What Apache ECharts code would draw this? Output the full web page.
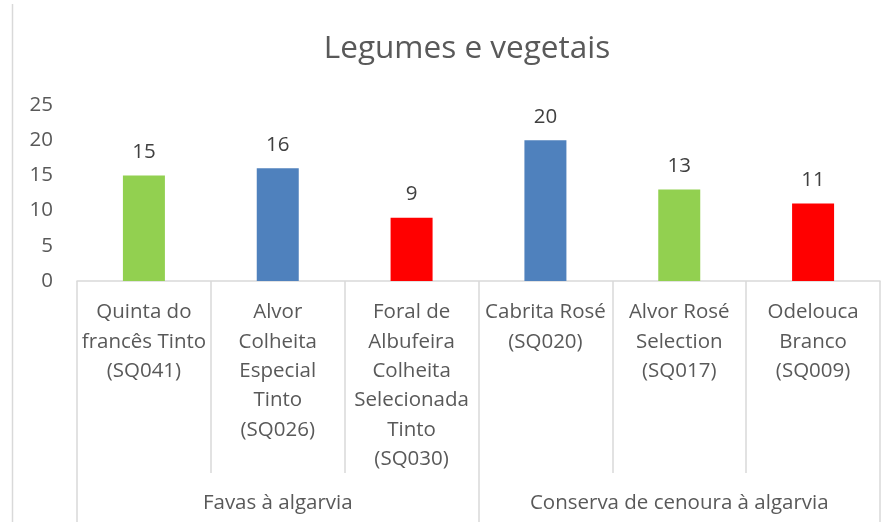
<!DOCTYPE html>
<html>
<head>
<meta charset="utf-8">
<script src="https://cdn.jsdelivr.net/npm/echarts@6/dist/echarts.min.js"></script>
<style>
  html, body { margin: 0; padding: 0; background: #fff; }
  #chart { width: 892px; height: 522px; }
</style>
</head>
<body>
<div id="chart"></div>
<script>
// dados do gráfico
const titleText = 'Legumes e vegetais';
const products = [
  'Quinta do\nfrancês Tinto\n(SQ041)',
  'Alvor\nColheita\nEspecial\nTinto\n(SQ026)',
  'Foral de\nAlbufeira\nColheita\nSelecionada\nTinto\n(SQ030)',
  'Cabrita Rosé\n(SQ020)',
  'Alvor Rosé\nSelection\n(SQ017)',
  'Odelouca\nBranco\n(SQ009)',
];
const groups = ['Favas à algarvia', 'Conserva de cenoura à algarvia'];
const values = [15, 16, 9, 20, 13, 11];
const barColors = ['#92d050', '#4f81bd', '#ff0000', '#4f81bd', '#92d050', '#ff0000'];
const yTicks = [0, 5, 10, 15, 20, 25];

const FONT = '"Open Sans", sans-serif';
const chart = echarts.init(document.getElementById('chart'));

chart.setOption({
  backgroundColor: '#fff',
  animation: false,
  textStyle: { fontFamily: FONT },
  title: {
    text: titleText,
    left: 462, top: 28, textAlign: 'center',
    textStyle: { fontFamily: FONT, fontSize: 31.5, fontWeight: 'normal', color: '#595959' },
  },
  graphic: [{
    type: 'line', shape: { x1: 12.5, y1: 4, x2: 12.5, y2: 522 },
    style: { stroke: '#d9d9d9', lineWidth: 1.5 },
  }],
  grid: { left: 77, right: 12, top: 105, bottom: 241 },
  xAxis: [{
    type: 'category', data: products, position: 'bottom',
    axisLine: { show: true, lineStyle: { color: '#d9d9d9', width: 1.5 } },
    axisTick: { show: true, length: 192, lineStyle: { color: '#d9d9d9', width: 1.5 } },
    axisLabel: {
      interval: 0, margin: 17, fontFamily: FONT, fontSize: 20.5, lineHeight: 29.3,
      color: '#595959', verticalAlign: 'top',
    },
  }, {
    type: 'category', data: groups, position: 'bottom',
    axisLine: { show: false },
    axisTick: { show: true, length: 241, lineStyle: { color: '#d9d9d9', width: 1.5 } },
    axisLabel: {
      interval: 0, margin: 212, fontFamily: FONT, fontSize: 20.5, color: '#595959',
    },
  }],
  yAxis: {
    type: 'value', min: yTicks[0], max: yTicks[yTicks.length - 1], interval: 5,
    axisLine: { show: false }, axisTick: { show: false },
    splitLine: { show: false },
    axisLabel: { margin: 24, fontFamily: FONT, fontSize: 20.5, color: '#595959' },
  },
  series: [{
    type: 'bar', xAxisIndex: 0, barWidth: 42,
    data: values.map((v, i) => ({ value: v, itemStyle: { color: barColors[i] } })),
    label: { show: true, position: 'top', distance: 13, fontFamily: FONT, fontSize: 20.5, color: '#404040' },
  }],
});
</script>
</body>
</html>
